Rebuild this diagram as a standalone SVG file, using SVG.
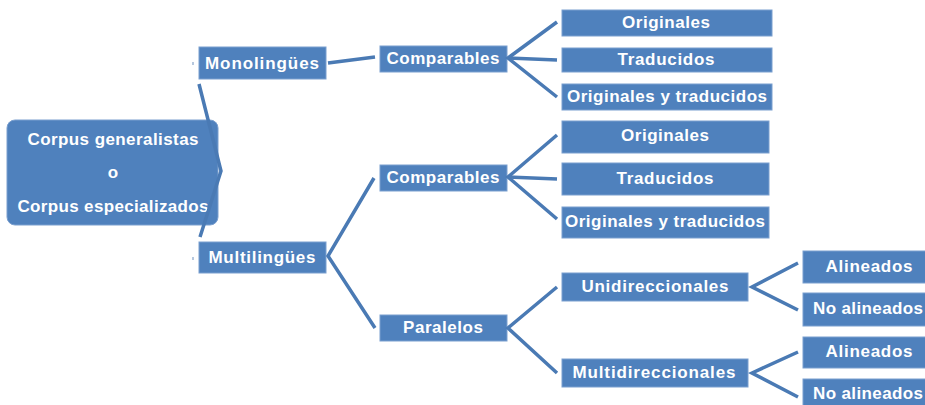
<svg xmlns="http://www.w3.org/2000/svg" width="925" height="405" viewBox="0 0 925 405">
  <style>
    .box { fill: #4f81bd; stroke: #7a9fcf; stroke-width: 1; }
    .lbl { fill: #ffffff; font-family: "Liberation Sans", Arial, sans-serif; font-weight: bold; font-size: 17px; text-anchor: middle; }
    .link { fill: none; stroke: #4a7ab4; stroke-width: 3.5; stroke-linejoin: miter; stroke-linecap: butt; }
    .tick { fill: #b7c8de; }
  </style>
  <rect width="925" height="405" fill="#ffffff"/>

  <!-- root -->
  <g id="root">
    <rect class="box" x="7" y="120" width="211" height="105" rx="8"/>
    <text class="lbl" x="113" y="145" textLength="171" lengthAdjust="spacing">Corpus generalistas</text>
    <text class="lbl" x="113" y="178">o</text>
    <text class="lbl" x="113" y="212" textLength="191" lengthAdjust="spacing">Corpus especializados</text>
  </g>

  <!-- level 1 -->
  <g id="monolingues">
    <rect class="box" x="199" y="47" width="127" height="32"/>
    <text class="lbl" x="262" y="69" textLength="114" lengthAdjust="spacing">Monolingües</text>
  </g>
  <g id="multilingues">
    <rect class="box" x="199" y="242" width="127" height="31"/>
    <text class="lbl" x="262" y="263" textLength="107" lengthAdjust="spacing">Multilingües</text>
  </g>

  <!-- level 2 -->
  <g id="comparables-mono">
    <rect class="box" x="380" y="46" width="127" height="26"/>
    <text class="lbl" x="443" y="64" textLength="113" lengthAdjust="spacing">Comparables</text>
  </g>
  <g id="comparables-multi">
    <rect class="box" x="380" y="165" width="127" height="26"/>
    <text class="lbl" x="443" y="183" textLength="113" lengthAdjust="spacing">Comparables</text>
  </g>
  <g id="paralelos">
    <rect class="box" x="380" y="315" width="127" height="26"/>
    <text class="lbl" x="443" y="333" textLength="80" lengthAdjust="spacing">Paralelos</text>
  </g>

  <!-- level 3: comparables (monolingües) -->
  <g id="mono-originales">
    <rect class="box" x="562" y="10" width="210" height="26"/>
    <text class="lbl" x="666" y="28" textLength="88" lengthAdjust="spacing">Originales</text>
  </g>
  <g id="mono-traducidos">
    <rect class="box" x="562" y="48" width="210" height="24"/>
    <text class="lbl" x="666" y="65" textLength="97" lengthAdjust="spacing">Traducidos</text>
  </g>
  <g id="mono-ambos">
    <rect class="box" x="562" y="84" width="210" height="26"/>
    <text class="lbl" x="667" y="102" textLength="200" lengthAdjust="spacing">Originales y traducidos</text>
  </g>

  <!-- level 3: comparables (multilingües) -->
  <g id="multi-originales">
    <rect class="box" x="562" y="121" width="207" height="32"/>
    <text class="lbl" x="665" y="141" textLength="88" lengthAdjust="spacing">Originales</text>
  </g>
  <g id="multi-traducidos">
    <rect class="box" x="562" y="163" width="207" height="32"/>
    <text class="lbl" x="665" y="184" textLength="97" lengthAdjust="spacing">Traducidos</text>
  </g>
  <g id="multi-ambos">
    <rect class="box" x="562" y="207" width="207" height="31"/>
    <text class="lbl" x="665" y="227" textLength="200" lengthAdjust="spacing">Originales y traducidos</text>
  </g>

  <!-- level 3: paralelos -->
  <g id="unidireccionales">
    <rect class="box" x="562" y="273" width="186" height="28"/>
    <text class="lbl" x="655" y="292" textLength="147" lengthAdjust="spacing">Unidireccionales</text>
  </g>
  <g id="multidireccionales">
    <rect class="box" x="562" y="359" width="186" height="28"/>
    <text class="lbl" x="654" y="378" textLength="163" lengthAdjust="spacing">Multidireccionales</text>
  </g>

  <!-- level 4 -->
  <g id="uni-alineados">
    <rect class="box" x="803" y="251" width="132" height="32"/>
    <text class="lbl" x="869" y="272" textLength="87" lengthAdjust="spacing">Alineados</text>
  </g>
  <g id="uni-no-alineados">
    <rect class="box" x="803" y="293" width="132" height="33"/>
    <text class="lbl" x="868" y="314" textLength="110" lengthAdjust="spacing">No alineados</text>
  </g>
  <g id="multi-alineados">
    <rect class="box" x="803" y="337" width="132" height="31"/>
    <text class="lbl" x="869" y="357" textLength="87" lengthAdjust="spacing">Alineados</text>
  </g>
  <g id="multi-no-alineados">
    <rect class="box" x="803" y="379" width="132" height="34"/>
    <text class="lbl" x="868" y="399" textLength="110" lengthAdjust="spacing">No alineados</text>
  </g>

  <!-- connectors -->
  <g id="connectors">
    <rect class="tick" x="192" y="62" width="2" height="3"/>
    <rect class="tick" x="192" y="257" width="2" height="3"/>
    <polyline class="link" points="199,84 221,171 200,237"/>
    <polyline class="link" points="328,63 375,57"/>
    <polyline class="link" points="557,22 508,58 557,97"/>
    <polyline class="link" points="508,58 557,60"/>
    <polyline class="link" points="557,135 508,177 557,219"/>
    <polyline class="link" points="508,177 557,179"/>
    <polyline class="link" points="374,178 328,256 375,328"/>
    <polyline class="link" points="557,287 508,328 557,373"/>
    <polyline class="link" points="798,263 752,287 798,310"/>
    <polyline class="link" points="798,352 752,373 798,397"/>
  </g>
</svg>
